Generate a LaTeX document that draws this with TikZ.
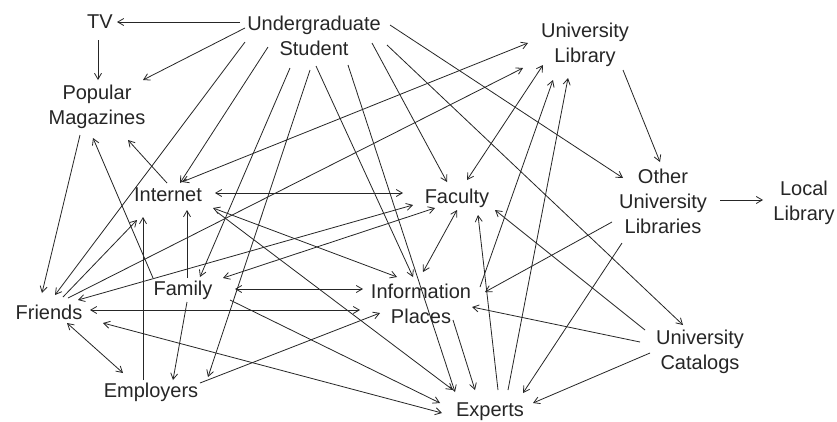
\documentclass[tikz,border=0pt]{standalone}
\usepackage{fontspec}
\setmainfont{Liberation Sans}
\usetikzlibrary{arrows.meta,calc}
\newcommand\lnk[5]{\draw[#1] ($(#2)+(#3)$) -- ($(#4)+(#5)$);}
\tikzset{
  lbl/.style={font=\fontsize{20}{25}\selectfont, align=center, inner sep=1pt, text=black!85},
  arr/.style={-{Straight Barb[length=6pt,width=7pt]}},
  darr/.style={{Straight Barb[length=6pt,width=7pt]}-{Straight Barb[length=6pt,width=7pt]}},
}
\begin{document}
\begin{tikzpicture}[x=1pt,y=-1pt, line width=0.8pt, draw=black!85]
\useasboundingbox[fill=white] (0,0) rectangle (837,421);
\node[lbl] (tv)  at (100,22)  {TV};
\node[lbl] (ug)  at (314,36)  {Undergraduate\\Student};
\node[lbl] (ul)  at (585,45)  {University\\Library};
\node[lbl] (pm)  at (97,107)  {Popular\\Magazines};
\node[lbl] (inet) at (168,195) {Internet};
\node[lbl] (fac) at (457,198) {Faculty};
\node[lbl] (oul) at (663,201) {Other\\University\\Libraries};
\node[lbl] (loc) at (804,203) {Local\\Library};
\node[lbl] (fam) at (183,290) {Family};
\node[lbl] (ip)  at (421,304) {Information\\Places};
\node[lbl] (fr)  at (49,312)  {Friends};
\node[lbl] (emp) at (151,392) {Employers};
\node[lbl] (exp) at (490,412) {Experts};
\node[lbl] (uc)  at (700,352) {University\\Catalogs};
% from Undergraduate Student
\lnk{arr}{ug}{-74,-14}{tv}{17,0}
\lnk{arr}{tv}{-2,18}{pm}{1,-27}
\lnk{arr}{ug}{-69,-8}{pm}{46,-27}
\lnk{arr}{ug}{-69,6}{fr}{6,-17}
\lnk{arr}{ug}{-46,11}{inet}{12,-12}
\lnk{arr}{ug}{-24,32}{fam}{17,-13}
\lnk{arr}{ug}{-4,34}{emp}{57,-15}
\lnk{arr}{ug}{2,30}{ip}{-8,-27}
\lnk{arr}{ug}{34,29}{exp}{-35,-20}
\lnk{arr}{ug}{58,7}{fac}{-10,-16}
\lnk{arr}{ug}{73,9}{uc}{-17,-27}
\lnk{arr}{ug}{76,-11}{oul}{-40,-23}
% libraries
\lnk{arr}{ul}{38,25}{oul}{-3,-39}
\lnk{arr}{oul}{57,-1}{loc}{-41,-3}
\lnk{darr}{inet}{14,-13}{ul}{-57,-2}
\lnk{arr}{fr}{19,-14}{ul}{-62,23}
\lnk{darr}{fac}{10,-18}{ul}{-42,20}
\lnk{arr}{ip}{59,-17}{ul}{-32,35}
\lnk{arr}{exp}{18,-22}{ul}{-17,33}
% internet, family, friends
\lnk{darr}{inet}{47,-2}{fac}{-54,-5}
\lnk{arr}{inet}{-1,-12}{pm}{31,33}
\lnk{arr}{fam}{-30,-12}{pm}{-4,31}
\lnk{arr}{pm}{-17,28}{fr}{-7,-19}
\lnk{arr}{fr}{14,-15}{inet}{-31,25}
\lnk{arr}{emp}{-8,-12}{inet}{-25,22}
\lnk{arr}{fam}{4,-12}{inet}{19,15}
\lnk{darr}{inet}{45,13}{ip}{-24,-27}
\lnk{arr}{inet}{49,17}{exp}{-37,-22}
\lnk{darr}{fr}{29,-12}{fac}{-44,7}
\lnk{darr}{fam}{40,-12}{fac}{-22,10}
\lnk{darr}{fac}{0,12}{ip}{2,-32}
\lnk{arr}{exp}{8,-22}{fac}{21,17}
\lnk{arr}{uc}{-55,-22}{fac}{38,12}
\lnk{darr}{fam}{52,-1}{ip}{-58,-15}
\lnk{darr}{fr}{41,-2}{ip}{-61,6}
\lnk{arr}{emp}{49,-9}{ip}{-41,9}
\lnk{darr}{fr}{18,11}{emp}{-28,-19}
\lnk{arr}{fam}{4,12}{emp}{22,-12}
\lnk{darr}{fr}{54,11}{exp}{-48,1}
\lnk{arr}{fam}{47,10}{exp}{-50,-9}
\lnk{arr}{ip}{32,16}{exp}{-15,-22}
\lnk{arr}{oul}{-51,21}{ip}{64,-12}
\lnk{arr}{oul}{-41,42}{exp}{33,-19}
\lnk{arr}{uc}{-60,-10}{ip}{51,3}
\lnk{arr}{uc}{-50,1}{exp}{43,-9}
\end{tikzpicture}
\end{document}
